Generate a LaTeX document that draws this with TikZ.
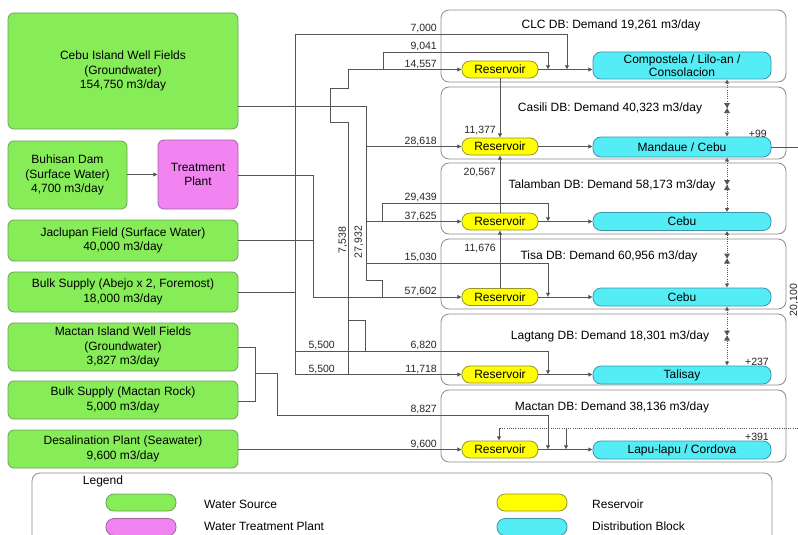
\documentclass[tikz,border=0pt]{standalone}
\usepackage{fontspec}
\setmainfont{Liberation Sans}
\usetikzlibrary{arrows.meta,calc}
\definecolor{srcfill}{RGB}{134,236,88}
\definecolor{srcdraw}{RGB}{110,160,90}
\definecolor{trfill}{RGB}{242,132,242}
\definecolor{trdraw}{RGB}{160,100,160}
\definecolor{resfill}{RGB}{255,255,0}
\definecolor{resdraw}{RGB}{150,150,40}
\definecolor{dbfill}{RGB}{84,236,245}
\definecolor{dbdraw}{RGB}{60,150,170}
\definecolor{boxdraw}{RGB}{140,140,140}
\definecolor{lncol}{RGB}{85,85,85}
\newcommand\dgmMain{\fontsize{12}{14.5}\selectfont}
\newcommand\dgmNum{\fontsize{10.5}{12}\selectfont}
\begin{document}
\begin{tikzpicture}[x=1pt,y=-1pt,
  src/.style={draw=srcdraw, fill=srcfill, rounded corners=6pt, line width=0.8pt, align=center, font=\dgmMain, inner sep=0pt},
  trt/.style={draw=trdraw, fill=trfill, rounded corners=6pt, line width=0.8pt, align=center, font=\dgmMain, inner sep=0pt},
  resv/.style={draw=resdraw, fill=resfill, rounded corners=8pt, line width=0.8pt, font=\dgmMain, inner sep=0pt, minimum width=76pt, minimum height=17pt},
  dist/.style={draw=dbdraw, fill=dbfill, rounded corners=8pt, line width=0.8pt, font=\dgmMain, align=center, inner sep=0pt, minimum width=178pt, minimum height=18pt},
  dbbox/.style={draw=boxdraw, rounded corners=8pt, line width=0.8pt, minimum width=345pt, minimum height=72pt, inner sep=0pt},
  title/.style={font=\dgmMain, inner sep=0pt},
  num/.style={font=\dgmNum, inner sep=0pt, text=black!85},
  ln/.style={draw=lncol, line width=0.7pt},
  fl/.style={ln, -{Latex[length=4.2pt,width=4.6pt]}},
  dl/.style={draw=lncol, line width=0.7pt, dash pattern=on 1pt off 1.2pt},
  dlboth/.style={dl, {Latex[length=4pt,width=4.6pt]}-{Latex[length=4pt,width=4.6pt]}}
]
\useasboundingbox[fill=white] (0,0) rectangle (798,535);

% ---------------- sources ----------------
\node[src, minimum width=230pt, minimum height=116pt] (cebu) at (123,71) {Cebu Island Well Fields\\(Groundwater)\\154,750 m3/day};
\node[src, minimum width=119pt, minimum height=68pt] (buhisan) at (67.5,175) {Buhisan Dam\\(Surface Water)\\4,700 m3/day};
\node[trt, minimum width=80pt, minimum height=69pt] (treat) at (198,174.5) {Treatment\\Plant};
\node[src, minimum width=230pt, minimum height=41pt] (jac) at (123,240.5) {Jaclupan Field (Surface Water)\\40,000 m3/day};
\node[src, minimum width=230pt, minimum height=40pt] (abejo) at (123,292) {Bulk Supply (Abejo x 2, Foremost)\\18,000 m3/day};
\node[src, minimum width=230pt, minimum height=48pt] (mwf) at (123,347) {Mactan Island Well Fields\\(Groundwater)\\3,827 m3/day};
\node[src, minimum width=230pt, minimum height=38pt] (mrock) at (123,400) {Bulk Supply (Mactan Rock)\\5,000 m3/day};
\node[src, minimum width=230pt, minimum height=38pt] (desal) at (123,449) {Desalination Plant (Seawater)\\9,600 m3/day};

\draw[fl] (buhisan.east |- treat) -- (treat.west);

% ---------------- distribution boxes ----------------
\node[dbbox] (bclc) at (613.5,46) {};
\node[dbbox] (bcas) at (613.5,123) {};
\node[dbbox, minimum height=71pt] (btal) at (613.5,198.5) {};
\node[dbbox, minimum height=70pt] (btis) at (613.5,274) {};
\node[dbbox, minimum height=71pt] (blag) at (613.5,349.5) {};
\node[dbbox] (bmac) at (613.5,426) {};

\node[title] at (611,25) {CLC DB: Demand 19,261 m3/day};
\node[title] at (610,108) {Casili DB: Demand 40,323 m3/day};
\node[title] at (612,185) {Talamban DB: Demand 58,173 m3/day};
\node[title] at (609,256) {Tisa DB: Demand 60,956 m3/day};
\node[title] at (610,336) {Lagtang DB: Demand 18,301 m3/day};
\node[title] at (612,407) {Mactan DB: Demand 38,136 m3/day};

% reservoirs
\node[resv] (r1) at (500,69.5) {Reservoir};
\node[resv] (r2) at (500,146.5) {Reservoir};
\node[resv] (r3) at (500,221.5) {Reservoir};
\node[resv] (r4) at (500,297) {Reservoir};
\node[resv] (r5) at (500,374.5) {Reservoir};
\node[resv] (r6) at (500,449.5) {Reservoir};

% distribution blocks
\node[dist, minimum height=27pt] (d1) at (682,65.5) {Compostela / Lilo-an /\\[-1pt]Consolacion};
\node[dist, minimum height=20pt] (d2) at (682,147) {Mandaue / Cebu};
\node[dist] (d3) at (682,221.5) {Cebu};
\node[dist] (d4) at (682,297) {Cebu};
\node[dist] (d5) at (682,375) {Talisay};
\node[dist] (d6) at (682,450) {Lapu-lapu / Cordova};

% reservoir -> block
\foreach \r/\d in {r1/d1,r2/d2,r3/d3,r4/d4,r5/d5,r6/d6}
  \draw[fl] (\r.east) -- (\r.east -| \d.west);

% reservoir to reservoir
\draw[fl] (r1.south) -- (r2.north);
\draw[fl] (r3.north) -- (r2.south);
\draw[fl] (r4.north) -- (r3.south);
\node[num, anchor=base east] at (496,133) {11,377};
\node[num, anchor=base east] at (496,175) {20,567};
\node[num, anchor=base east] at (496,251) {11,676};

% ---------------- source networks ----------------
% Bulk supply (Abejo) trunk x=295
\coordinate (aT) at (295,34);
\coordinate (aJ) at (295,292);
\coordinate (aM) at (295,351);
\coordinate (aB) at (295,374.5);
\coordinate (a7) at (567,34);
\coordinate (a68) at (548,351);
\draw[ln] (abejo.east |- aJ) -- (aJ);
\draw[ln] (aT) -- (aB);
\draw[fl] (aT) -- (a7) -- (a7 |- r1);
\draw[fl] (aM) -- (a68) -- (a68 |- r5);
\draw[fl] (aB) -- (r5.west);

% Cebu well fields trunk x=366
\coordinate (cA) at (366,106);
\coordinate (cB) at (366,280);
\coordinate (cC) at (382,280);
\coordinate (c29) at (382,203);
\coordinate (c29e) at (548,203);
\coordinate (c15) at (366,263);
\coordinate (c15e) at (548,263);
\draw[ln] (cebu.east |- cA) -- (cA) -- (cB) -- (cC) -- (cC |- r4);
\draw[fl] (cA |- r2) -- (r2.west);
\draw[fl] (cA |- r3) -- (r3.west);
\draw[ln] (c29) -- (c29 |- r3);
\draw[fl] (c29) -- (c29e) -- (c29e |- r3);
\draw[fl] (c15) -- (c15e) -- (c15e |- r4);

% x=348 line with jog
\coordinate (kA) at (348,69.5);
\coordinate (k9) at (383,52);
\coordinate (k9e) at (548,52);
\draw[ln] (kA) -- (348,88) -- (330,88) -- (330,122) -- (348,122) -- (348,374.5);
\draw[ln] (348,320) -- (365,320) -- (365,351);
\draw[fl] (kA) -- (r1.west);
\draw[ln] (k9) -- (k9 |- r1);
\draw[fl] (k9) -- (k9e) -- (k9e |- r1);

% Treatment plant and Jaclupan trunk x=313
\coordinate (tA) at (313,175);
\draw[ln] (treat.east |- tA) -- (tA) -- (tA |- r4);
\draw[ln] (jac.east) -- (jac.east -| tA);
\draw[fl] (tA |- r4) -- (r4.west);

% Mactan sources
\coordinate (mA) at (255,347);
\coordinate (mB) at (255,401);
\coordinate (mC) at (255,373);
\coordinate (mD) at (277,373);
\coordinate (mE) at (277,415);
\coordinate (mF) at (548,415);
\draw[ln] (mwf.east |- mA) -- (mA) -- (mB) -- (mrock.east |- mB);
\draw[ln] (mC) -- (mD);
\draw[fl] (mD) -- (mE) -- (mF) -- (mF |- r6);
\draw[fl] (desal.east |- r6) -- (r6.west);

% dotted Mactan link
\coordinate (xA) at (798,428);
\coordinate (xB) at (499,428);
\coordinate (xC) at (566,428);
\draw[dl] (xA) -- (xB);
\draw[fl] (xB) -- (xB |- r6.north);
\draw[fl] (xC) -- (xC |- r6);

% right-hand dotted links between blocks
\coordinate (vx) at (727,0);
\draw[dlboth] (vx |- d1.south) -- (vx |- d2.north);
\draw[dlboth] (vx |- d2.south) -- (vx |- d3.north);
\draw[dlboth] (vx |- d3.south) -- (vx |- d4.north);
\draw[dlboth] (vx |- d4.south) -- (vx |- d5.north);
\foreach \m in {108,185,258.5,335.5}{
  \fill[lncol] (727,\m) -- ++(-3,-5) -- ++(6,0) -- cycle;
  \fill[lncol] (727,\m) -- ++(-3,5) -- ++(6,0) -- cycle;
}
\draw[ln] (d2.east) -- (798,147);
\node[num, anchor=base east] at (767,137) {+99};
\node[num, anchor=base east] at (769,365) {+237};
\node[num, anchor=base east] at (769,440) {+391};
\node[num, rotate=90] at (794,300) {20,100};

% flow labels
\foreach \t/\yy in {{7,000}/34, {9,041}/52, {14,557}/69.5, {28,618}/146.5, {29,439}/203, {37,625}/221.5, {15,030}/263, {57,602}/297, {6,820}/351, {11,718}/374.5, {8,827}/415, {9,600}/449.5}
  \node[num, anchor=base east] at (437,\yy-2.5) {\t};
\node[num, anchor=base east] at (335,348.5) {5,500};
\node[num, anchor=base east] at (335,372) {5,500};
\node[num, rotate=90] at (343,240) {7,538};
\node[num, rotate=90] at (359,242) {27,932};

% ---------------- legend ----------------
\draw[draw=boxdraw, line width=0.8pt, rounded corners=8pt] (32,473) rectangle (772,570);
\node[font=\dgmMain, inner sep=0pt] (lg) at (103,481) {Legend};
\node[src, minimum width=70pt, minimum height=17pt, rounded corners=8pt] (ls1) at (141,502.5) {};
\node[trt, minimum width=70pt, minimum height=17pt, rounded corners=8pt] (ls2) at (141,527) {};
\node[resv, minimum width=70pt] (ls3) at (532,502.5) {};
\node[dist, minimum width=70pt, minimum height=17pt] (ls4) at (532,527) {};
\node[font=\dgmMain, inner sep=0pt, anchor=west] at (204,504) {Water Source};
\node[font=\dgmMain, inner sep=0pt, anchor=west] at (204,526) {Water Treatment Plant};
\node[font=\dgmMain, inner sep=0pt, anchor=west] at (592,504) {Reservoir};
\node[font=\dgmMain, inner sep=0pt, anchor=west] at (592,526) {Distribution Block};
\end{tikzpicture}
\end{document}
